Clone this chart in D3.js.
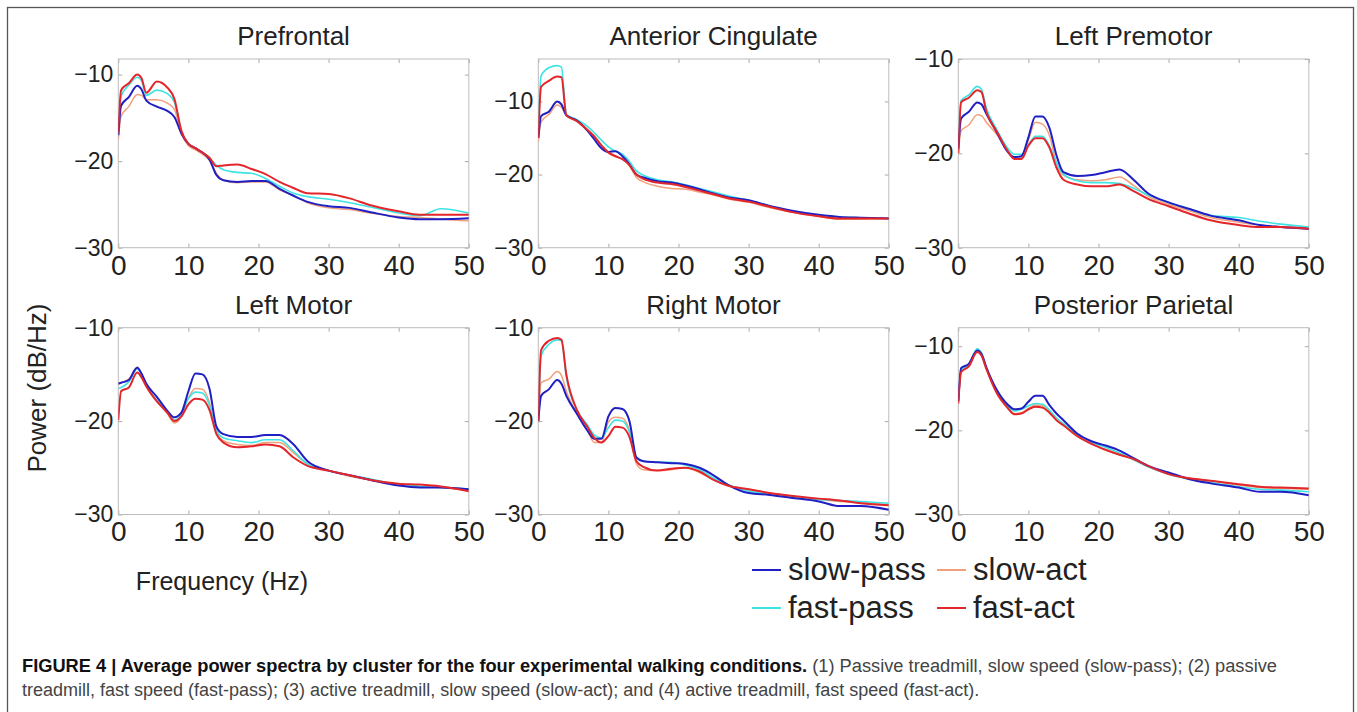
<!DOCTYPE html>
<html>
<head>
<meta charset="utf-8">
<script src="https://cdn.jsdelivr.net/npm/d3@7"></script>
<style>
  body { margin: 0; background: #fff; }
  text { font-family: "Liberation Sans", Arial, sans-serif; fill: #222; }
</style>
</head>
<body>
<script>
// frequency grid (Hz) shared by every curve
var freq = [0,0.4,1.5,2.7,3.3,4,5.5,7,8,9,10,11,12,13,14,15,17,19,21,23,25,27,30,33,36,40,43,46,50];

// power (dB/Hz)
var prefrontalSlowPass = [-17,-13.6,-12.6,-11.3,-11.7,-13.0,-13.7,-14.2,-14.9,-16.8,-18,-18.5,-19,-19.8,-21.6,-22.2,-22.4,-22.3,-22.3,-23.2,-24,-24.7,-25.2,-25.4,-25.9,-26.5,-26.7,-26.7,-26.6];
var prefrontalSlowAct  = [-17.5,-14.8,-13.7,-12.3,-12.4,-12.9,-12.9,-13.3,-14,-16.8,-18.2,-18.7,-19.2,-19.9,-21.4,-22.2,-22.5,-22.4,-22.4,-23.3,-24,-24.8,-25.4,-25.6,-26,-26.4,-26.5,-26.7,-26.9];
var prefrontalFastPass = [-16.5,-12.5,-11.2,-10.3,-10.7,-12.4,-11.8,-12.2,-13.2,-16.5,-18,-18.5,-19,-19.6,-20.5,-21,-21.3,-21.4,-22,-22.9,-23.7,-24.1,-24.4,-24.8,-25.3,-26,-26.3,-25.5,-26];
var prefrontalFastAct  = [-16.7,-11.8,-11.0,-10.0,-10.4,-12.1,-10.8,-11.5,-12.8,-16.5,-18,-18.5,-19,-19.6,-20.6,-20.5,-20.4,-20.9,-21.5,-22.4,-23.1,-23.7,-23.8,-24.3,-25.1,-25.8,-26.2,-26.2,-26.2];

var cingulateSlowPass = [-15,-12,-11.4,-10,-10.4,-11.9,-12.6,-14,-15.2,-16.4,-16.9,-16.8,-17.5,-18.6,-20,-20.4,-20.9,-21.1,-21.5,-22,-22.6,-23.1,-23.5,-24.3,-24.9,-25.5,-25.8,-25.9,-26];
var cingulateSlowAct  = [-15.5,-12.8,-11.8,-10.5,-10.8,-11.9,-12.7,-13.8,-14.8,-16,-16.9,-17.4,-17.9,-18.8,-20.4,-21,-21.6,-21.9,-22,-22.4,-22.8,-23.3,-23.8,-24.5,-25.1,-25.7,-26.1,-26.1,-26];
var cingulateFastPass = [-14,-6.5,-5.4,-5.1,-5.3,-11.8,-12.5,-13.4,-14.3,-15.3,-16.2,-16.8,-17.2,-18.2,-19.5,-20.1,-20.7,-21,-21.4,-21.9,-22.4,-22.9,-23.5,-24.3,-25,-25.6,-25.8,-25.9,-26];
var cingulateFastAct  = [-15,-8,-7.2,-6.6,-6.7,-11.9,-12.7,-13.9,-14.8,-16,-17,-17.5,-17.9,-18.7,-20,-20.6,-21.1,-21.3,-21.7,-22.2,-22.7,-23.2,-23.7,-24.4,-25.1,-25.7,-26,-26,-26];

var premotorSlowPass = [-19.5,-16.3,-15.6,-14.6,-14.8,-15.8,-17.8,-19.8,-20.4,-20.3,-18.3,-16.1,-16.1,-17.3,-20.2,-22,-22.4,-22.3,-22,-21.7,-22.8,-24.2,-25.2,-25.9,-26.6,-27.1,-27.6,-27.8,-28];
var premotorSlowAct  = [-20,-17.6,-17,-15.9,-16,-16.7,-18,-19.7,-20.6,-20.5,-18.6,-16.7,-16.9,-18.1,-21,-22.3,-22.8,-22.9,-22.8,-22.5,-23.4,-24.5,-25.4,-26.1,-26.8,-27.3,-27.6,-27.8,-28];
var premotorFastPass = [-19,-14.4,-13.8,-12.9,-13.2,-15.2,-17.5,-19.4,-20.1,-20.1,-19.1,-18.2,-18.2,-19.2,-21,-22.2,-22.9,-23.1,-23.1,-23.2,-23.7,-24.4,-25.2,-25.9,-26.6,-26.8,-27.2,-27.5,-27.8];
var premotorFastAct  = [-20,-14.6,-14.1,-13.3,-13.5,-15.6,-17.7,-19.7,-20.6,-20.6,-19.2,-18.4,-18.4,-19.4,-21.5,-22.8,-23.3,-23.5,-23.5,-23.3,-24,-24.8,-25.6,-26.4,-27.1,-27.6,-27.8,-27.8,-28];

var leftMotorSlowPass = [-16,-15.9,-15.6,-14.3,-14.9,-16,-17.4,-18.9,-19.6,-19.1,-16.8,-14.9,-15,-16.5,-20.6,-21.4,-21.7,-21.7,-21.5,-21.5,-22.5,-24.3,-25.3,-25.8,-26.3,-26.9,-27.1,-27.1,-27.3];
var leftMotorSlowAct  = [-16,-15.9,-15.5,-14.2,-14.9,-16.2,-17.8,-19.2,-20.2,-19.5,-17.5,-16.5,-16.6,-18,-21.2,-22.1,-22.5,-22.6,-22.3,-22.3,-23.4,-24.6,-25.3,-25.9,-26.3,-26.8,-27,-27.1,-27.4];
var leftMotorFastPass = [-16.5,-16.4,-15.8,-14.4,-15,-16.2,-17.8,-19,-19.9,-19.3,-17.6,-16.9,-17,-18.3,-21,-21.8,-22.1,-22.3,-22,-22,-23.2,-24.6,-25.3,-25.8,-26.2,-26.8,-27,-27.1,-27.3];
var leftMotorFastAct  = [-19.9,-16.8,-16.4,-14.8,-15.3,-16.3,-17.9,-19.1,-20,-19.5,-18.2,-17.6,-17.7,-18.8,-21.4,-22.3,-22.8,-22.7,-22.5,-22.7,-23.9,-24.8,-25.3,-25.8,-26.3,-26.7,-26.8,-27,-27.5];

var rightMotorSlowPass = [-20,-17.3,-16.6,-15.6,-16,-17.3,-19.2,-21,-21.9,-21.9,-19.5,-18.6,-18.7,-20,-23.9,-24.3,-24.4,-24.5,-24.6,-25,-25.8,-26.8,-27.7,-27.9,-28.2,-28.6,-29.1,-29.1,-29.5];
var rightMotorSlowAct  = [-20,-15.9,-15.5,-14.7,-15.1,-16.8,-19.2,-21,-22.3,-22.3,-20.1,-19.6,-19.7,-21,-24.6,-25.2,-25.3,-25.2,-25,-25.5,-26.3,-26.9,-27.3,-27.7,-28,-28.4,-28.6,-28.7,-29];
var rightMotorFastPass = [-20,-13,-11.8,-11.3,-11.4,-15.3,-18.8,-20.4,-21.5,-21.8,-20.7,-19.9,-20,-21.2,-23.9,-24.3,-24.4,-24.4,-24.7,-25.2,-26.1,-26.8,-27.5,-27.8,-28.1,-28.4,-28.5,-28.6,-28.8];
var rightMotorFastAct  = [-20,-12.4,-11.4,-11.1,-11.3,-15,-18.8,-20.6,-21.8,-22.3,-21.6,-20.6,-20.7,-21.7,-24.3,-24.9,-25.3,-25.1,-25,-25.4,-26.3,-26.9,-27.3,-27.7,-28,-28.3,-28.5,-28.8,-29];

var parietalSlowPass = [-16.5,-12.6,-12.1,-10.5,-10.9,-12.5,-15.2,-16.9,-17.5,-17.4,-16.6,-15.9,-15.9,-17,-18,-18.8,-20.4,-21.3,-21.8,-22.4,-23.3,-24.2,-25,-25.8,-26.3,-26.8,-27.3,-27.3,-27.7];
var parietalSlowAct  = [-16.8,-13,-12.3,-10.5,-11,-12.6,-15.5,-17.2,-18,-17.9,-17.4,-17,-17.1,-17.8,-18.7,-19.4,-20.7,-21.6,-22.3,-22.9,-23.4,-24.3,-25.2,-25.7,-26,-26.5,-26.8,-26.9,-27];
var parietalFastPass = [-16.5,-12.9,-12.2,-10.3,-10.8,-12.6,-15.4,-17.1,-17.7,-17.5,-17.1,-16.8,-16.9,-17.6,-18.5,-19.2,-20.5,-21.4,-22,-22.7,-23.5,-24.3,-25.2,-25.8,-26.2,-26.7,-27,-27.1,-27.3];
var parietalFastAct  = [-16.8,-13.1,-12.4,-10.7,-11.1,-12.7,-15.6,-17.3,-18.1,-18,-17.5,-17.2,-17.3,-17.9,-18.8,-19.4,-20.7,-21.6,-22.3,-22.9,-23.4,-24.2,-25.2,-25.7,-26,-26.4,-26.7,-26.8,-26.9];

var titles = ["Prefrontal", "Anterior Cingulate", "Left Premotor", "Left Motor", "Right Motor", "Posterior Parietal"];
var yMax = [-8.2, -4.2, -10, -10, -10, -7.8];   // upper y limit of each panel
var yTicks = [-30, -20, -10];
var xTicks = [0, 10, 20, 30, 40, 50];
var seriesNames = ["slow-pass", "slow-act", "fast-pass", "fast-act"];
var seriesColors = ["#1f1fc4", "#f2a07a", "#3ee3e3", "#e3262b"];

var panelData = [
  [prefrontalSlowPass, prefrontalSlowAct, prefrontalFastPass, prefrontalFastAct],
  [cingulateSlowPass, cingulateSlowAct, cingulateFastPass, cingulateFastAct],
  [premotorSlowPass, premotorSlowAct, premotorFastPass, premotorFastAct],
  [leftMotorSlowPass, leftMotorSlowAct, leftMotorFastPass, leftMotorFastAct],
  [rightMotorSlowPass, rightMotorSlowAct, rightMotorFastPass, rightMotorFastAct],
  [parietalSlowPass, parietalSlowAct, parietalFastPass, parietalFastAct]
];

// layout
var colLeft = [118.3, 538.3, 958.3], panelW = 350.5;
var rowTop = [59, 327.7], rowH = [188.7, 186.8];
var drawOrder = [1, 2, 0, 3];            // slow-act, fast-pass, slow-pass, fast-act
var lineWidth = [2, 1.5, 1.6, 2];

var svg = d3.select("body").append("svg")
    .attr("width", 1357)
    .attr("height", 712);

// outer frame
svg.append("rect")
    .attr("x", 7.5).attr("y", 7.5)
    .attr("width", 1346).attr("height", 720)
    .attr("fill", "none")
    .attr("stroke", "#555")
    .attr("stroke-width", 1.3);

panelData.forEach(function(series, p) {
  var col = p % 3, row = Math.floor(p / 3);
  var left = colLeft[col], top = rowTop[row], h = rowH[row];

  var x = d3.scaleLinear().domain([0, 50]).range([0, panelW]);
  var y = d3.scaleLinear().domain([-30, yMax[p]]).range([h, 0]);

  var g = svg.append("g").attr("transform", "translate(" + left + "," + top + ")");

  var clipId = "clip" + p;
  g.append("clipPath").attr("id", clipId)
    .append("rect").attr("width", panelW).attr("height", h);

  // axes: ticks pointing inward on all four sides
  var ticksY = yTicks.filter(function(t) { return t <= yMax[p]; });
  var bottom = g.append("g").attr("transform", "translate(0," + h + ")")
      .call(d3.axisBottom(x).tickValues(xTicks).tickSize(-4).tickPadding(7));
  var topAx = g.append("g")
      .call(d3.axisTop(x).tickValues(xTicks).tickSize(-4).tickFormat(""));
  var leftAx = g.append("g")
      .call(d3.axisLeft(y).tickValues(ticksY).tickSize(-4).tickPadding(5));
  var rightAx = g.append("g").attr("transform", "translate(" + panelW + ",0)")
      .call(d3.axisRight(y).tickValues(ticksY).tickSize(-4).tickFormat(""));

  [bottom, topAx, leftAx, rightAx].forEach(function(a) {
    a.select(".domain").remove();
    a.selectAll(".tick line").attr("stroke", "#aaa");
  });
  bottom.selectAll("text").attr("font-size", 28).attr("fill", "#222")
      .attr("font-family", "Liberation Sans, Arial, sans-serif");
  leftAx.selectAll("text").attr("font-size", 23).attr("fill", "#222")
      .attr("font-family", "Liberation Sans, Arial, sans-serif");

  g.append("rect")
      .attr("width", panelW).attr("height", h)
      .attr("fill", "none")
      .attr("stroke", "#bcbcbc")
      .attr("stroke-width", 1);

  var line = d3.line()
      .x(function(d, i) { return x(freq[i]); })
      .y(function(d) { return y(d); })
      .curve(d3.curveMonotoneX);

  var lines = g.append("g").attr("clip-path", "url(#" + clipId + ")");
  drawOrder.forEach(function(s) {
    lines.append("path")
        .datum(series[s])
        .attr("d", line)
        .attr("fill", "none")
        .attr("stroke", seriesColors[s])
        .attr("stroke-width", lineWidth[s])
        .attr("stroke-linejoin", "round");
  });

  g.append("text")
      .attr("x", panelW / 2)
      .attr("y", -14)
      .attr("text-anchor", "middle")
      .attr("font-size", 26)
      .text(titles[p]);
});

// axis labels
svg.append("text")
    .attr("transform", "translate(46,388) rotate(-90)")
    .attr("text-anchor", "middle")
    .attr("font-size", 26)
    .text("Power (dB/Hz)");

svg.append("text")
    .attr("x", 222).attr("y", 590)
    .attr("text-anchor", "middle")
    .attr("font-size", 25)
    .text("Frequency (Hz)");

// legend
var legendPos = [[752, 570], [937, 570], [752, 608], [937, 608]];
seriesNames.forEach(function(name, i) {
  var lg = svg.append("g").attr("transform", "translate(" + legendPos[i][0] + "," + legendPos[i][1] + ")");
  lg.append("line")
      .attr("x1", 0).attr("x2", 29)
      .attr("stroke", seriesColors[i])
      .attr("stroke-width", 2);
  lg.append("text")
      .attr("x", 36).attr("y", 10)
      .attr("font-size", 31)
      .text(name);
});

// caption
var cap1 = svg.append("text").attr("x", 22).attr("y", 672).attr("font-size", 18)
    .attr("textLength", 1255).attr("lengthAdjust", "spacingAndGlyphs");
cap1.append("tspan").attr("font-weight", "bold").style("fill", "#111")
    .text("FIGURE 4 | Average power spectra by cluster for the four experimental walking conditions.");
cap1.append("tspan").style("fill", "#444")
    .text(" (1) Passive treadmill, slow speed (slow-pass); (2) passive");

svg.append("text").attr("x", 22).attr("y", 696).attr("font-size", 18)
    .style("fill", "#444")
    .text("treadmill, fast speed (fast-pass); (3) active treadmill, slow speed (slow-act); and (4) active treadmill, fast speed (fast-act).");
</script>
</body>
</html>
